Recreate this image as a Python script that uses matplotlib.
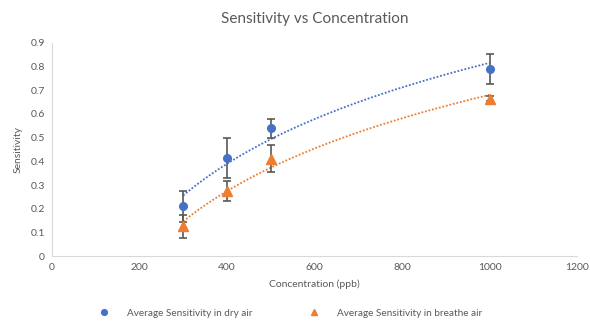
import numpy as np
import matplotlib.pyplot as plt

# Concentration (ppb)
conc = [300, 400, 500, 1000]

# Average sensitivity in dry air, with error bars
dry = [0.21, 0.415, 0.54, 0.79]
dry_err = [0.065, 0.085, 0.04, 0.065]

# Average sensitivity in breathe air, with error bars
breathe = [0.125, 0.275, 0.41, 0.665]
breathe_err = [0.05, 0.043, 0.057, 0.01]

blue = '#4472C4'
orange = '#ED7D31'
grey = '#595959'

plt.rcParams['font.family'] = ['Lato', 'DejaVu Sans']

fig = plt.figure(figsize=(5.9, 3.25), dpi=100)
ax = fig.add_axes([0.088, 0.212, 0.89, 0.656])

# logarithmic trendlines, like Excel's
xs = np.linspace(conc[0], conc[-1], 200)
for vals, col in [(dry, blue), (breathe, orange)]:
    b, a = np.polyfit(np.log(conc), vals, 1)
    ax.plot(xs, a + b * np.log(xs), color=col, linestyle=(0, (1, 1)), linewidth=1.3, zorder=2)

ax.errorbar(conc, dry, yerr=dry_err, fmt='none', ecolor=grey, elinewidth=1.2, capsize=3, capthick=1.2, zorder=3)
ax.errorbar(conc, breathe, yerr=breathe_err, fmt='none', ecolor=grey, elinewidth=1.2, capsize=3, capthick=1.2, zorder=3)
ax.plot(conc, dry, 'o', color=blue, markersize=5.5, label='Average Sensitivity in dry air', zorder=4)
ax.plot(conc, breathe, '^', color=orange, markersize=6.5, label='Average Sensitivity in breathe air', zorder=4)

ax.set_xlim(0, 1200)
ax.set_ylim(0, 0.9)
ax.set_xticks(np.arange(0, 1201, 200))
ax.set_yticks(np.round(np.arange(0, 0.91, 0.1), 1))
ax.set_yticklabels(['0'] + [f'{v:.1f}' for v in np.arange(0.1, 0.91, 0.1)])

for side in ['top', 'right']:
    ax.spines[side].set_visible(False)
for side in ['left', 'bottom']:
    ax.spines[side].set_color('#D9D9D9')
ax.tick_params(length=0, labelsize=7.5, colors=grey, pad=5)

ax.set_title('Sensitivity vs Concentration', fontsize=11, color=grey, pad=14)
ax.set_xlabel('Concentration (ppb)', fontsize=7.5, color=grey, labelpad=5)
ax.set_ylabel('Sensitivity', fontsize=7.5, color=grey, labelpad=6)

fig.legend(loc='lower center', bbox_to_anchor=(0.488, -0.005), ncol=2, frameon=False,
           fontsize=7.2, labelcolor=grey, columnspacing=5.2, handletextpad=1.3,
           markerscale=0.75)

fig.savefig('out.png', dpi=100)
